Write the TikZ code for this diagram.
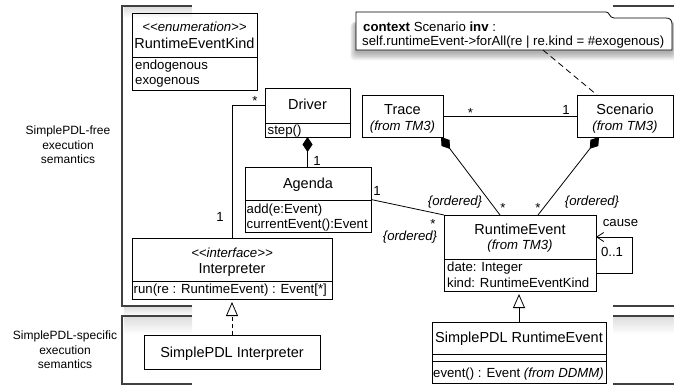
\documentclass[tikz,border=0pt]{standalone}
\usepackage{fontspec}
\setmainfont{Liberation Sans}
\usetikzlibrary{arrows.meta}
\begin{document}
\begin{tikzpicture}[x=1pt,y=-1pt,
  box/.style={draw, line width=0.9pt, inner sep=0pt, outer sep=0pt, anchor=north west},
  divl/.style={line width=0.9pt},
  cname/.style={font=\fontsize{14.5}{16}\selectfont, inner sep=0pt, anchor=base},
  txt/.style={font=\fontsize{13.2}{15}\selectfont, inner sep=0pt, anchor=base west},
  ital/.style={font=\fontsize{13.2}{15}\selectfont\itshape, inner sep=0pt, anchor=base},
  lbl/.style={font=\fontsize{13.2}{15}\selectfont, inner sep=0pt, anchor=base},
  side/.style={font=\fontsize{12}{14.5}\selectfont, align=center, inner sep=0pt},
  conn/.style={line width=0.8pt},
  bracket/.style={line width=1.3pt, draw=black!75},
  comp/.style={conn, {Diamond[length=15pt,width=10pt]}-},
  gen/.style={conn, -{Triangle[open,length=14pt,width=12pt]}, shorten >=3pt},
  shade/.style={top color=black!18, bottom color=white, draw=none, opacity=0.7},
  notesh/.style={fill=black, opacity=0.05, draw=none, rounded corners=4pt}
]
\useasboundingbox (0,0) rectangle (674,385);

% ---------- section brackets ----------
\shade[shade] (124,307.5) rectangle (192,316);
\shade[shade] (124,317.5) rectangle (192,334);
\shade[shade] (613,317.5) rectangle (674,334);
\shade[shade] (124,7.5) rectangle (192,18);
\draw[bracket] (192,6) -- (122,6) -- (122,306) -- (192,306);
\draw[bracket] (192,316) -- (122,316) -- (122,384) -- (192,384);
\draw[bracket] (613,6) -- (674,6);
\draw[bracket] (613,306) -- (674,306);
\draw[bracket] (613,316) -- (674,316);
\draw[bracket] (613,384) -- (674,384);

\node[side] (free) at (68,145) {SimplePDL-free\\execution\\semantics};
\node[side] (spec) at (65,350) {SimplePDL-specific\\execution\\semantics};

% ---------- OCL note ----------
\node[inner sep=0pt, outer sep=0pt, minimum width=316pt, minimum height=38pt, anchor=north west] (note) at (356,12) {};
\foreach \s in {1,...,7} {
  \fill[notesh] (356-\s*0.8, 22) rectangle (672+\s*0.8, 52+\s*1.2);
}
\filldraw[fill=white, draw=black, line width=0.8pt]
  (356,12) -- (606,12) .. controls (610,12) and (609,18) .. (614,18) -- (666,18)
  .. controls (670,18) and (672,20) .. (672,24) -- (672,50) -- (356,50) -- cycle;
\node[txt] (ocl1) at (363,31.5) {\textbf{context} Scenario \textbf{inv} :};
\node[txt] (ocl2) at (362,45.5) {self.runtimeEvent->forAll(re | re.kind = \#exogenous)};

% ---------- RuntimeEventKind ----------
\node[box, minimum width=125pt, minimum height=77pt] (rek) at (132,13) {};
\draw[divl] (132,57) -- (257,57);
\node[ital] (rekS) at (194.5,32) {<\kern0pt<enumeration>\kern0pt>};
\node[cname] (rekN) at (194.5,49) {RuntimeEventKind};
\node[txt] (rekA1) at (135,70) {endogenous};
\node[txt] (rekA2) at (135,85) {exogenous};

% ---------- Driver ----------
\node[box, minimum width=85pt, minimum height=49pt] (drv) at (265,88) {};
\draw[divl] (265,123) -- (350,123);
\node[cname] (drvN) at (307.5,110) {Driver};
\node[txt] (drvO) at (267.5,134) {step()};

% ---------- Agenda ----------
\node[box, minimum width=126pt, minimum height=65pt] (agd) at (245,167) {};
\draw[divl] (245,200) -- (371,200);
\node[cname] (agdN) at (308,188.5) {Agenda};
\node[txt] (agdO1) at (246.5,213) {add(e:Event)};
\node[txt] (agdO2) at (246.5,228) {currentEvent():Event};

% ---------- Interpreter ----------
\node[box, minimum width=200pt, minimum height=61pt] (intp) at (132,238) {};
\draw[divl] (132,281) -- (332,281);
\node[ital] (intpS) at (232,257.5) {<\kern0pt<interface>\kern0pt>};
\node[cname] (intpN) at (232,273.5) {Interpreter};
\node[txt] (intpO) at (133.5,293.5) {run(re : RuntimeEvent) : Event[*]};

% ---------- SimplePDL Interpreter ----------
\node[box, minimum width=176pt, minimum height=34pt] (spi) at (144,335) {};
\node[cname] (spiN) at (232,357) {SimplePDL Interpreter};

% ---------- Trace ----------
\node[box, minimum width=81pt, minimum height=42pt] (trc) at (362,95) {};
\node[cname] (trcN) at (402.5,114) {Trace};
\node[ital] (trcF) at (402.5,130.5) {(from TM3)};

% ---------- Scenario ----------
\node[box, minimum width=96pt, minimum height=42pt] (scn) at (577,95) {};
\node[cname] (scnN) at (625,114) {Scenario};
\node[ital] (scnF) at (625,130.5) {(from TM3)};

% ---------- RuntimeEvent ----------
\node[box, minimum width=152pt, minimum height=76pt] (re) at (444,215) {};
\draw[divl] (444,259) -- (596,259);
\node[cname] (reN) at (520,234.5) {RuntimeEvent};
\node[ital] (reF) at (520,249.5) {(from TM3)};
\node[txt] (reA1) at (447,271.5) {date: Integer};
\node[txt] (reA2) at (447,287) {kind: RuntimeEventKind};

% ---------- SimplePDL RuntimeEvent ----------
\node[box, minimum width=174pt, minimum height=61pt] (spre) at (432,322) {};
\draw[divl] (432,354) -- (606,354);
\draw[divl] (432,361) -- (606,361);
\node[cname] (spreN) at (519,342) {SimplePDL RuntimeEvent};
\node[txt] (spreO) at (433,377.5) {event() : Event \textit{(from DDMM)}};

% ---------- connectors ----------
% Driver -- Interpreter
\draw[conn] ([yshift=7.5pt]drv.west) -| (intp.north);
\node[lbl] (m1) at (255,105.5) {*};
\node[lbl] (m2) at (220,221) {1};

% Driver <>-- Agenda
\draw[comp] (drv.south) -- (drv.south |- agd.north);
\node[lbl] (m3) at (317,165) {1};

% Agenda -- RuntimeEvent
\draw[conn] (agd.east) -- (re.north west);
\node[lbl] (m4) at (377,195) {1};
\node[lbl] (m5) at (433,228.5) {*};
\node[ital] (o1) at (410,240.5) {\{ordered\}};

% Trace -- Scenario
\draw[conn] (trc.east) -- (scn.west);
\node[lbl] (m6) at (470.5,117.5) {*};
\node[lbl] (m7) at (566,115) {1};

% Trace <>-- RuntimeEvent
\draw[comp] ([xshift=-2pt]trc.south east) -- ([xshift=-20pt]re.north);
\node[ital] (o2) at (455,205.5) {\{ordered\}};
\node[lbl] (m8) at (503,212) {*};

% Scenario <>-- RuntimeEvent
\draw[comp] ([xshift=22pt]scn.south west) -- ([xshift=18pt]re.north);
\node[ital] (o3) at (592,205.5) {\{ordered\}};
\node[lbl] (m9) at (538,212) {*};

% note anchor
\draw[conn, dash pattern=on 6pt off 4pt] ([xshift=29pt]note.south) -- ([xshift=-28pt]scn.north);

% cause self association
\draw[conn, -{Straight Barb[length=7pt,width=9pt]}] ([yshift=-20pt]re.east) -- ++(36,0) |- ([yshift=16pt]re.east);
\node[lbl] (cause) at (620.5,226.5) {cause};
\node[lbl] (card) at (612,256) {0..1};

% generalization / realization
\draw[gen] (spre.north) -- (spre.north |- re.south);
\draw[gen, dash pattern=on 4pt off 3pt] (spi.north) -- (spi.north |- intp.south);
\end{tikzpicture}
\end{document}
